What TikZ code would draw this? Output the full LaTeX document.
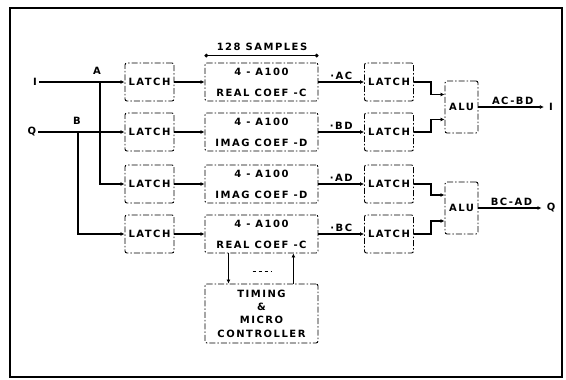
\documentclass[tikz,border=0pt]{standalone}
\usepackage{fontspec}
\newfontfamily\fonte[LetterSpace=15]{DejaVu Sans}
\usetikzlibrary{arrows.meta, positioning, calc}
\tikzset{
    caixa/.style  = {draw=black, line width=0.9pt, dash pattern=on 6pt off 2pt on 1.5pt off 2pt,
                     rounded corners=2pt, font=\fonte\bfseries\fontsize{10}{12}\selectfont,
                     align=center, inner sep=1pt},
    trava/.style  = {caixa, minimum width=49pt, minimum height=38pt},
    filtro/.style = {caixa, minimum width=113pt, minimum height=38pt},
    ula/.style    = {caixa, minimum width=33pt, minimum height=52pt},
    rot/.style    = {font=\fonte\bfseries\fontsize{10}{12}\selectfont, inner sep=2pt},
    fio/.style    = {-{Latex[length=4pt,width=4pt]}, line width=1.6pt},
    barra/.style  = {{Circle[open,length=3.5pt]}-{Circle[open,length=3.5pt]}, line width=1.3pt},
    moldura/.style = {line width=1.2pt},
}
\begin{document}
\begin{tikzpicture}[x=1pt, y=-1pt]
    \useasboundingbox (0,0) rectangle (566,380);
    \draw[moldura] (10,8) rectangle (562,377);
    % entradas e derivações
    \node[rot] (inI) at (35,82) {I};
    \node[rot] (inQ) at (32,132) {Q};
    \coordinate (jA) at (100,82);
    \coordinate (jB) at (78,132);
    \node[rot] (rA) at (97,71) {A};
    \node[rot] (rB) at (77,121) {B};
    % travas de entrada
    \node[trava] (l1) at (149.5,82) {LATCH};
    \node[trava] (l2) at (149.5,132) {LATCH};
    \node[trava] (l3) at (149.5,184) {LATCH};
    \node[trava] (l4) at (149.5,234) {LATCH};
    % filtros
    \node[filtro] (m1) at (261.5,82) {4 - A100\\[9pt]REAL COEF -C};
    \node[filtro] (m2) at (261.5,132) {4 - A100\\[9pt]IMAG COEF -D};
    \node[filtro] (m3) at (261.5,184) {4 - A100\\[9pt]IMAG COEF -D};
    \node[filtro] (m4) at (261.5,234) {4 - A100\\[9pt]REAL COEF -C};
    \node[rot] (amostras) at (262,47) {128 SAMPLES};
    % travas de saída e ULAs
    \node[trava] (p1) at (389,82) {LATCH};
    \node[trava] (p2) at (389,132) {LATCH};
    \node[trava] (p3) at (389,184) {LATCH};
    \node[trava] (p4) at (389,234) {LATCH};
    \node[ula] (u1) at (461.5,107) {ALU};
    \node[ula] (u2) at (461.5,208) {ALU};
    \node[rot] (outI) at (551,107) {I};
    \node[rot] (outQ) at (551,208) {Q};
    % controle
    \node[filtro, minimum height=59pt] (tc) at (261.5,313.5)
        {TIMING\\[1.3pt]\&\\[1.3pt]MICRO\\[1.3pt]CONTROLLER};

    \draw[barra] ($(m1.north west)+(0,-7)$) -- ($(m1.north east)+(0,-7)$);
    \draw[fio] (inI) -- (l1);
    \draw[fio] (inQ) -- (l2);
    \draw[fio] (jA) |- (l3);
    \draw[fio] (jB) |- (l4);
    \foreach \i in {1,...,4}
        \draw[fio] (l\i) -- (m\i);
    \draw[fio] (m1) -- node[rot, above] {·AC} (p1);
    \draw[fio] (m2) -- node[rot, above] {·BD} (p2);
    \draw[fio] (m3) -- node[rot, above] {·AD} (p3);
    \draw[fio] (m4) -- node[rot, above] {·BC} (p4);
    \draw[fio] (p1.east) -- ++(17,0) |- ($(u1.west)+(0,-12.5)$);
    \draw[fio] (p2.east) -- ++(17,0) |- ($(u1.west)+(0,12.5)$);
    \draw[fio] (p3.east) -- ++(17,0) |- ($(u2.west)+(0,-13)$);
    \draw[fio] (p4.east) -- ++(17,0) |- ($(u2.west)+(0,13)$);
    \draw[fio, shorten >=3pt] (u1) -- node[rot, above] {AC-BD} (outI);
    \draw[fio, shorten >=3pt] (u2) -- node[rot, above] {BC-AD} (outQ);
    \draw[fio] ($(m4.south west)!0.21!(m4.south east)$) -- ($(tc.north west)!0.21!(tc.north east)$);
    \draw[fio] ($(tc.north west)!0.78!(tc.north east)$) -- ($(m4.south west)!0.78!(m4.south east)$);
    \draw[dashed, line width=0.6pt] ($(m4.south)!0.6!(tc.north)+(-9,0)$) -- ++(19,0);
\end{tikzpicture}
\end{document}
